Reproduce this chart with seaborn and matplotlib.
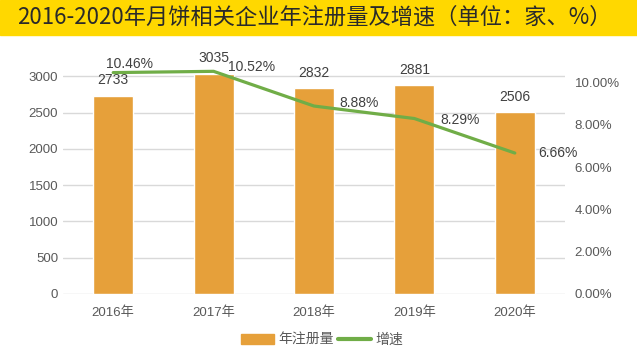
import matplotlib
matplotlib.use("Agg")
import matplotlib.pyplot as plt
from matplotlib.patches import Rectangle, Patch
from matplotlib.lines import Line2D
from matplotlib.ticker import FuncFormatter
import seaborn as sns
import pandas as pd

# datos
years = ["2016年", "2017年", "2018年", "2019年", "2020年"]
registros = [2733, 3035, 2832, 2881, 2506]
crecimiento = [10.46, 10.52, 8.88, 8.29, 6.66]

title = "2016-2020年月饼相关企业年注册量及增速（单位：家、%）"
legend_labels = ["年注册量", "增速"]

# desplazamiento de las etiquetas de %, en pixeles
pct_offsets = [(16, 9), (38, 4), (45, 3), (46, -1), (43, 0)]

sns.set_style("white")
plt.rcParams["font.family"] = ["Liberation Sans", "Noto Sans CJK SC", "DejaVu Sans"]

bar_color = "#E6A03A"
line_color = "#70AD47"
gray = "#595959"

df = pd.DataFrame({"year": years, "reg": registros, "pct": crecimiento})
df["pos"] = range(len(df))

fig = plt.figure(figsize=(6.37, 3.63), dpi=100)
ax = fig.add_axes([63 / 637, 1 - 294 / 363, (565 - 63) / 637, (294 - 40) / 363])

sns.barplot(data=df, x="year", y="reg", color=bar_color, width=0.4,
            saturation=1, ax=ax)
ax.set_ylim(0, 3500)
ax.set_yticks(range(0, 3001, 500))
ax.set_xlim(-0.5, len(years) - 0.5)
ax.set_xlabel("")
ax.set_ylabel("")
ax.yaxis.grid(True, color="#D9D9D9", linewidth=1)
ax.set_axisbelow(True)
ax.tick_params(axis="both", length=0, labelsize=9.5, labelcolor=gray)
ax.tick_params(axis="x", pad=9)
for s in ax.spines.values():
    s.set_visible(False)
ax.bar_label(ax.containers[0], padding=6, fontsize=10, color="#404040")

ax2 = ax.twinx()
sns.lineplot(data=df, x="pos", y="pct", color=line_color, linewidth=2.3,
             sort=False, ax=ax2)
ax2.set_ylim(0, 12)
ax2.set_yticks(range(0, 11, 2))
ax2.yaxis.set_major_formatter(FuncFormatter(lambda v, p: f"{v:.2f}%"))
ax2.set_xlim(-0.5, len(years) - 0.5)
ax2.set_xlabel("")
ax2.set_ylabel("")
ax2.tick_params(axis="y", length=0, labelsize=9.5, labelcolor=gray, pad=7)
for s in ax2.spines.values():
    s.set_visible(False)
for i, (p, off) in enumerate(zip(crecimiento, pct_offsets)):
    ax2.annotate(f"{p:.2f}%", (i, p), xytext=off, textcoords="offset pixels",
                 ha="center", va="center", fontsize=10, color="#404040")

# barra amarilla del titulo
fig.patches.append(Rectangle((0, 1 - 35 / 363), 1, 35 / 363,
                             transform=fig.transFigure, color="#FFD800",
                             zorder=-1))
fig.text(314 / 637, 1 - 17 / 363, title, ha="center", va="center",
         fontsize=16, color="#2a2a2a",
         family=["Noto Sans CJK SC", "DejaVu Sans"])

handles = [Patch(color=bar_color), Line2D([0], [0], color=line_color, linewidth=3)]
fig.legend(handles, legend_labels, loc="center", ncol=2,
           bbox_to_anchor=(322 / 637, 1 - 340 / 363), frameon=False,
           fontsize=10, labelcolor=gray, handlelength=2.4, handletextpad=0.3,
           columnspacing=0.3)

fig.savefig("out.png", dpi=100)
